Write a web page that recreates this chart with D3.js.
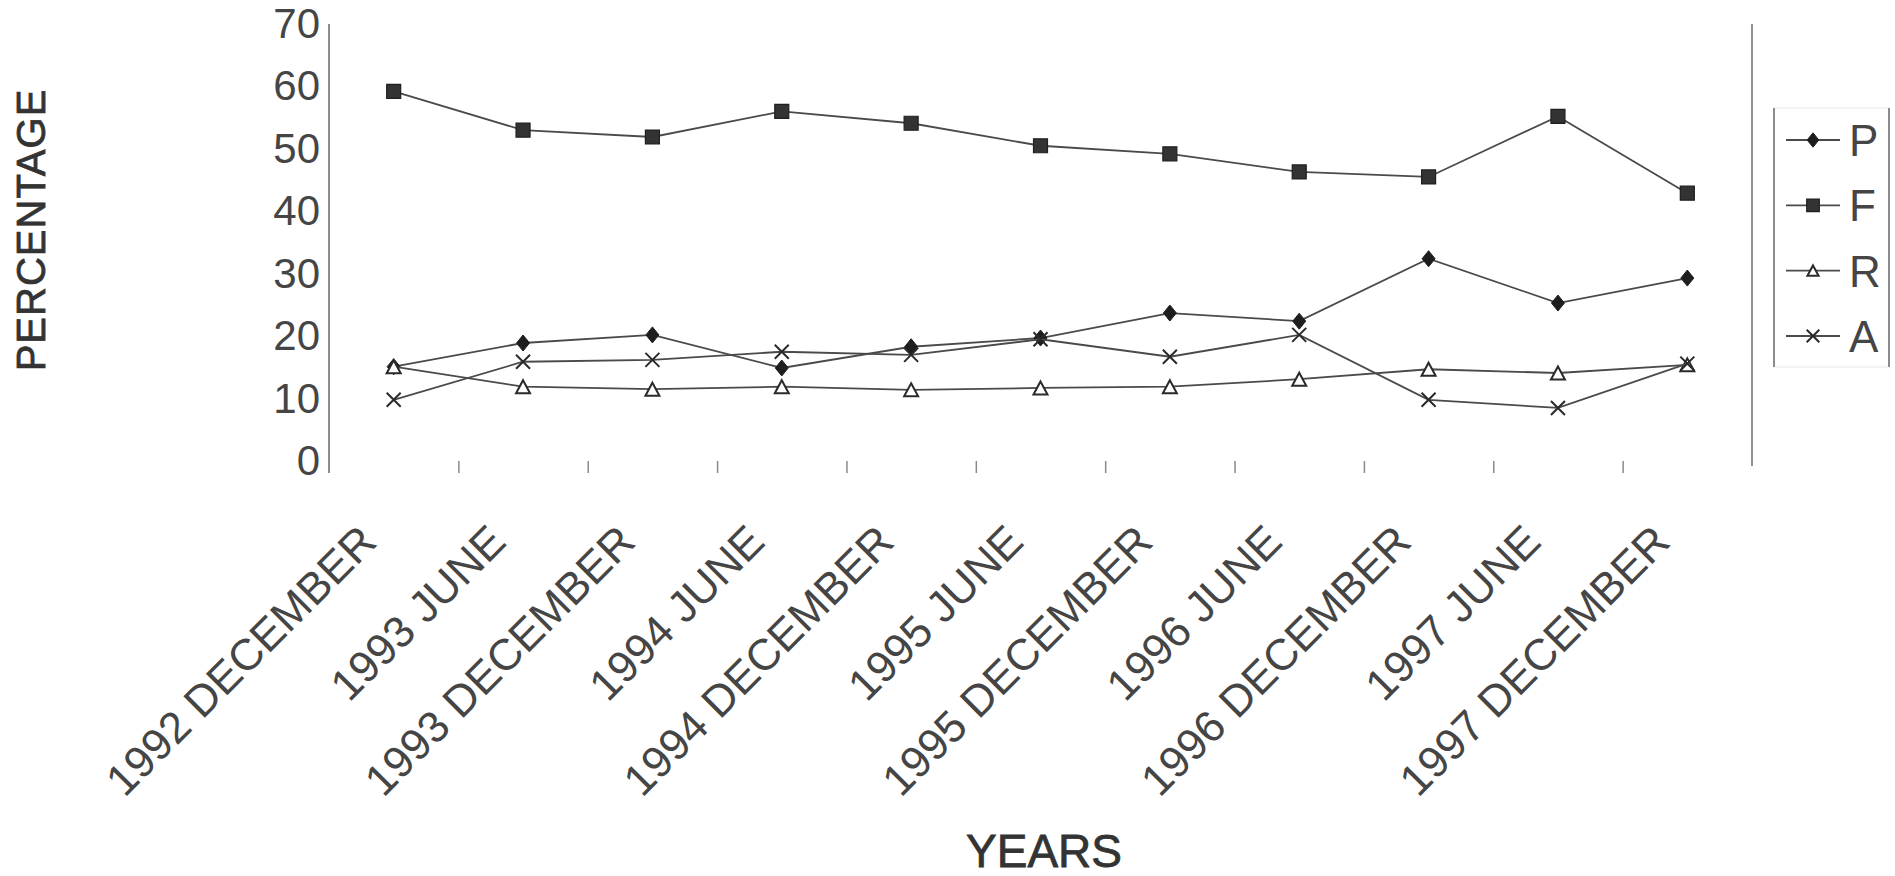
<!DOCTYPE html>
<html>
<head>
<meta charset="utf-8">
<script src="https://cdn.jsdelivr.net/npm/d3@7"></script>
<style>
  html, body { margin: 0; padding: 0; background: #ffffff; }
  svg { display: block; }
  text { font-family: "Liberation Sans", Arial, "DejaVu Sans", sans-serif; }
</style>
</head>
<body>
<div id="chart"></div>
<script>
// Survey periods (x categories)
const categories = [
  "1992 DECEMBER", "1993 JUNE", "1993 DECEMBER", "1994 JUNE",
  "1994 DECEMBER", "1995 JUNE", "1995 DECEMBER", "1996 JUNE",
  "1996 DECEMBER", "1997 JUNE", "1997 DECEMBER"
];

// Percentage values per series
const seriesP = [15.1, 18.9, 20.2, 14.9, 18.3, 19.7, 23.7, 22.4, 32.4, 25.3, 29.3];
const seriesF = [59.2, 53.0, 51.9, 56.0, 54.1, 50.5, 49.2, 46.3, 45.5, 55.2, 42.9];
const seriesR = [15.1, 11.9, 11.5, 11.9, 11.4, 11.7, 11.9, 13.1, 14.7, 14.1, 15.4];
const seriesA = [9.8, 15.9, 16.2, 17.5, 17.0, 19.5, 16.7, 20.2, 9.8, 8.5, 15.6];

const seriesNames = ["P", "F", "R", "A"];
const yTicks = [0, 10, 20, 30, 40, 50, 60, 70];

const seriesList = [
  { name: "P", values: seriesP, marker: "diamond" },
  { name: "F", values: seriesF, marker: "square" },
  { name: "R", values: seriesR, marker: "triangle" },
  { name: "A", values: seriesA, marker: "cross" }
];

const W = 1895, H = 876;
const plot = { left: 329, right: 1752, top: 24, bottom: 461 };

const svg = d3.select("#chart").append("svg")
  .attr("width", W).attr("height", H)
  .attr("viewBox", `0 0 ${W} ${H}`);

const x = d3.scaleBand().domain(categories).range([plot.left, plot.right]);
const xEdge = d3.scaleLinear().domain([0, categories.length]).range([plot.left, plot.right]);
const y = d3.scaleLinear().domain([0, 70]).range([plot.bottom, plot.top]);
const cx = c => x(c) + x.bandwidth() / 2;

const lineColor = "#4a4a4a";
const labelColor = "#454545";

// Right border of the plot area
svg.append("line")
  .attr("x1", plot.right).attr("x2", plot.right)
  .attr("y1", plot.top).attr("y2", plot.bottom + 5)
  .attr("stroke", "#6a6a6a").attr("stroke-width", 1.5);

// Value axis
const yAxis = svg.append("g")
  .attr("transform", `translate(${plot.left},0)`)
  .call(d3.axisLeft(y).tickValues(yTicks).tickSize(0).tickPadding(9));
yAxis.select(".domain").remove();
yAxis.selectAll("text")
  .attr("font-size", 42)
  .attr("fill", labelColor)
  .attr("font-family", "'Liberation Sans', Arial, sans-serif");
svg.append("line")
  .attr("x1", plot.left).attr("x2", plot.left)
  .attr("y1", y(70)).attr("y2", y(0) + 12)
  .attr("stroke", "#666").attr("stroke-width", 1.5);

// Category axis: tick marks between categories
const xTickAxis = svg.append("g")
  .attr("transform", `translate(0,${plot.bottom})`)
  .call(d3.axisBottom(xEdge)
    .tickValues(d3.range(1, categories.length))
    .tickSize(12).tickFormat(""));
xTickAxis.select(".domain").remove();
xTickAxis.selectAll(".tick line").attr("stroke", "#8a8a8a").attr("stroke-width", 1.5);

// Category labels, rotated
const xLabelAxis = svg.append("g")
  .attr("transform", `translate(0,${plot.bottom})`)
  .call(d3.axisBottom(x).tickSize(0).tickFormat(d => d));
xLabelAxis.select(".domain").remove();
xLabelAxis.selectAll("text")
  .attr("font-size", 44)
  .attr("fill", labelColor)
  .attr("font-family", "'Liberation Sans', Arial, sans-serif")
  .attr("text-anchor", "end")
  .attr("dy", 0)
  .attr("y", 0)
  .attr("transform", "translate(-15,83) rotate(-45)");

// Marker shapes
function markerPath(type, s) {
  if (type === "diamond") {
    const w = 6.5 * s, h = 8 * s;
    return `M0,${-h}L${w},0L0,${h}L${-w},0Z`;
  }
  if (type === "square") {
    const h = 7 * s;
    return `M${-h},${-h}H${h}V${h}H${-h}Z`;
  }
  if (type === "triangle") {
    const w = 7 * s, h = 6.5 * s;
    return `M0,${-h}L${w},${h}L${-w},${h}Z`;
  }
  const c = 7 * s;
  return `M${-c},${-c}L${c},${c}M${c},${-c}L${-c},${c}`;
}
function markerStyle(sel, type) {
  if (type === "diamond") sel.attr("fill", "#1e1e1e").attr("stroke", "#1e1e1e").attr("stroke-width", 1);
  else if (type === "square") sel.attr("fill", "#333").attr("stroke", "#1f1f1f").attr("stroke-width", 1.2);
  else if (type === "triangle") sel.attr("fill", "#ffffff").attr("stroke", "#2a2a2a").attr("stroke-width", 2);
  else sel.attr("fill", "none").attr("stroke", "#2a2a2a").attr("stroke-width", 2);
}

const line = d3.line()
  .x((d, i) => cx(categories[i]))
  .y(d => y(d));

// Series: line, then markers
seriesList.forEach(s => {
  const g = svg.append("g").attr("class", "series series-" + s.name);
  g.append("path")
    .datum(s.values)
    .attr("d", line)
    .attr("fill", "none")
    .attr("stroke", lineColor)
    .attr("stroke-width", 1.8);
  g.selectAll("path.mark")
    .data(s.values)
    .join("path")
    .attr("class", "mark")
    .attr("transform", (d, i) => `translate(${cx(categories[i])},${y(d)})`)
    .attr("d", markerPath(s.marker, 1))
    .call(markerStyle, s.marker);
});

// Axis titles
svg.append("text")
  .attr("transform", "translate(45,230) rotate(-90)")
  .attr("text-anchor", "middle")
  .attr("font-size", 40)
  .attr("fill", "#333")
  .attr("stroke", "#333").attr("stroke-width", 0.8)
  .attr("letter-spacing", 1)
  .text("PERCENTAGE");

svg.append("text")
  .attr("x", 1044).attr("y", 867)
  .attr("text-anchor", "middle")
  .attr("font-size", 46)
  .attr("fill", "#333")
  .attr("stroke", "#333").attr("stroke-width", 0.8)
  .text("YEARS");

// Legend
const legend = svg.append("g").attr("class", "legend");
legend.append("rect")
  .attr("x", 1774).attr("y", 108).attr("width", 115).attr("height", 259)
  .attr("fill", "none").attr("stroke", "#ececec").attr("stroke-width", 1.2);
[1774, 1889].forEach(lx => legend.append("line")
  .attr("x1", lx).attr("x2", lx).attr("y1", 108).attr("y2", 367)
  .attr("stroke", "#6a6a6a").attr("stroke-width", 1.5));

const legendY = d3.scalePoint().domain(seriesNames).range([140, 336]);
seriesList.forEach(s => {
  const ly = legendY(s.name);
  legend.append("line")
    .attr("x1", 1786).attr("x2", 1840).attr("y1", ly).attr("y2", ly)
    .attr("stroke", lineColor).attr("stroke-width", 1.8);
  legend.append("path")
    .attr("transform", `translate(1813,${ly})`)
    .attr("d", markerPath(s.marker, s.marker === "triangle" ? 0.8 : 0.9))
    .call(markerStyle, s.marker);
  legend.append("text")
    .attr("x", 1849).attr("y", ly)
    .attr("dy", "0.36em")
    .attr("font-size", 44)
    .attr("fill", labelColor)
    .text(s.name);
});
</script>
</body>
</html>
